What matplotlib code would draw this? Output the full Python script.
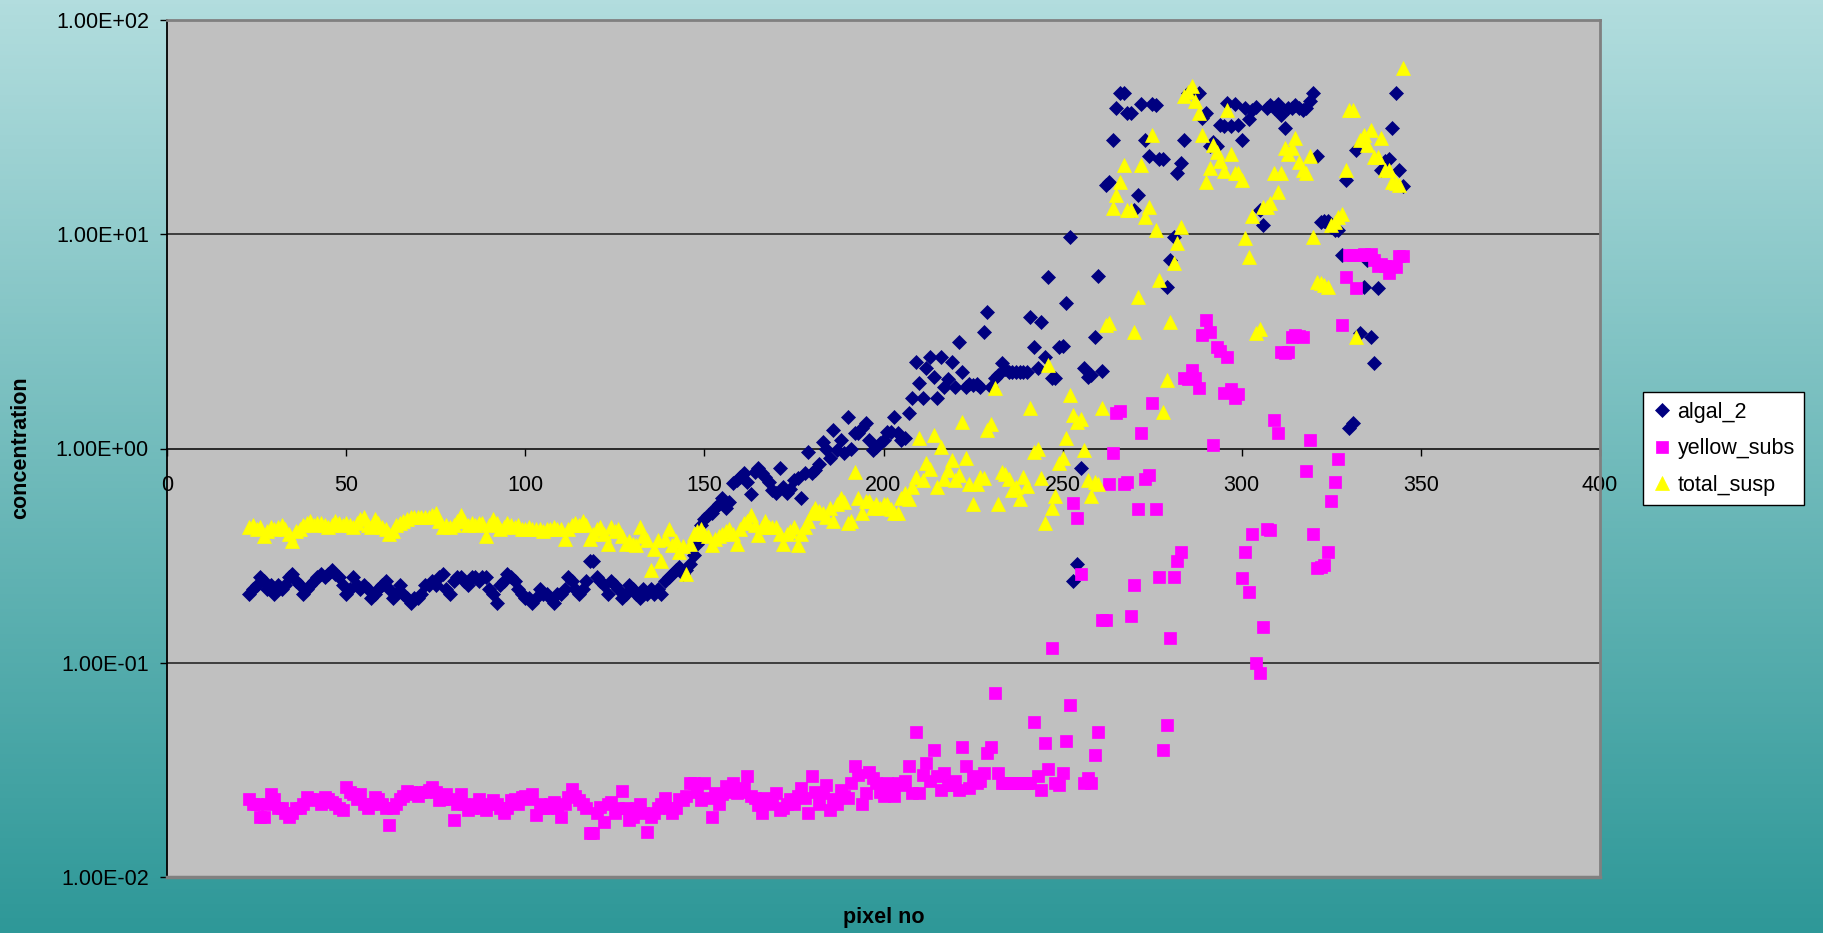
import numpy as np
import matplotlib
matplotlib.use("Agg")
import matplotlib.pyplot as plt
from matplotlib.ticker import FixedLocator, FuncFormatter, NullLocator

plt.rcParams['font.family'] = ['Liberation Sans', 'DejaVu Sans']

# pixel numbers along the transect
pixel_no = np.arange(23, 346)

algal_2 = [
    0.21, 0.22, 0.23, 0.25, 0.24, 0.22, 0.23, 0.21, 0.23, 0.22,
    0.23, 0.25, 0.26, 0.24, 0.23, 0.21, 0.22, 0.23, 0.24, 0.25,
    0.26, 0.25, 0.26, 0.27, 0.26, 0.25, 0.23, 0.21, 0.22, 0.25,
    0.23, 0.22, 0.23, 0.22, 0.20, 0.21, 0.22, 0.23, 0.24, 0.22,
    0.20, 0.21, 0.23, 0.21, 0.20, 0.19, 0.20, 0.20, 0.21, 0.23,
    0.23, 0.24, 0.23, 0.25, 0.26, 0.22, 0.21, 0.24, 0.25, 0.25,
    0.24, 0.23, 0.25, 0.25, 0.24, 0.25, 0.25, 0.22, 0.21, 0.19,
    0.23, 0.24, 0.26, 0.25, 0.24, 0.22, 0.21, 0.20, 0.20, 0.19,
    0.20, 0.22, 0.21, 0.21, 0.20, 0.19, 0.21, 0.21, 0.22, 0.25,
    0.24, 0.22, 0.21, 0.22, 0.24, 0.30, 0.30, 0.25, 0.24, 0.23,
    0.21, 0.24, 0.23, 0.22, 0.20, 0.21, 0.23, 0.22, 0.21, 0.20,
    0.22, 0.21, 0.22, 0.21, 0.22, 0.21, 0.24, 0.25, 0.26, 0.27,
    0.28, 0.26, 0.27, 0.29, 0.32, 0.36, 0.44, 0.47, 0.49, 0.50,
    0.53, 0.55, 0.59, 0.53, 0.56, 0.69, 0.71, 0.74, 0.77, 0.70,
    0.61, 0.78, 0.81, 0.77, 0.74, 0.70, 0.64, 0.62, 0.81, 0.66,
    0.62, 0.65, 0.71, 0.73, 0.59, 0.77, 0.96, 0.77, 0.79, 0.85,
    1.07, 1.00, 0.90, 1.22, 0.98, 1.10, 0.95, 1.40, 1.00, 1.18,
    1.18, 1.25, 1.32, 1.10, 0.98, 1.02, 1.06, 1.10, 1.19, 1.20,
    1.40, 1.18, 1.10, 1.12, 1.46, 1.72, 2.54, 2.02, 1.72, 2.37,
    2.68, 2.16, 1.72, 2.68, 1.94, 2.10, 2.54, 1.94, 3.14, 2.28,
    1.94, 2.00, 1.98, 2.00, 1.94, 3.50, 4.33, 1.94, 2.13, 2.20,
    2.50, 2.35, 2.28, 2.28, 2.28, 2.28, 2.28, 2.28, 4.10, 2.97,
    2.37, 3.90, 2.68, 6.30, 2.13, 2.13, 2.97, 3.00, 4.80, 9.70,
    0.24, 0.29, 0.81, 2.37, 2.16, 2.20, 3.30, 6.40, 2.30, 17.0,
    17.5, 27.5, 38.8, 45.5, 45.5, 36.8, 36.8, 13.0, 15.2, 40.5,
    27.5, 23.2, 40.5, 40.0, 22.4, 22.4, 5.7, 7.6, 9.7, 19.3,
    21.5, 27.5, 45.5, 46.0, 45.0, 45.5, 35.0, 36.8, 25.8, 27.0,
    25.8, 32.5, 32.0, 41.0, 32.0, 40.5, 32.5, 27.5, 39.0, 34.6,
    38.0, 39.4, 13.0, 11.0, 39.0, 40.0, 39.0, 40.5, 36.0, 31.3,
    39.0, 39.0, 40.0, 39.0, 38.0, 39.0, 42.0, 45.7, 23.2, 11.4,
    11.5, 11.5, 10.8, 10.5, 10.5, 8.0, 18.0, 1.25, 1.31, 24.7,
    3.46, 5.7, 7.6, 3.3, 2.5, 5.6, 20.0, 22.0, 22.4, 31.3,
    45.5, 20.0, 16.8,
]

yellow_subs = [
    0.023, 0.0218, 0.022, 0.019, 0.019, 0.022, 0.0245, 0.023, 0.021, 0.021,
    0.020, 0.019, 0.020, 0.021, 0.021, 0.022, 0.0237, 0.023, 0.0229, 0.023,
    0.022, 0.0237, 0.023, 0.0225, 0.022, 0.021, 0.0206, 0.0262, 0.025, 0.0245,
    0.023, 0.0245, 0.022, 0.021, 0.022, 0.0237, 0.023, 0.022, 0.021, 0.0175,
    0.021, 0.022, 0.023, 0.024, 0.0253, 0.025, 0.0245, 0.024, 0.025, 0.025,
    0.0255, 0.0262, 0.025, 0.0229, 0.023, 0.0245, 0.023, 0.0185, 0.022, 0.0245,
    0.022, 0.0206, 0.021, 0.022, 0.023, 0.021, 0.0206, 0.022, 0.0229, 0.022,
    0.021, 0.0198, 0.021, 0.0229, 0.023, 0.022, 0.0237, 0.024, 0.023, 0.0245,
    0.0195, 0.022, 0.021, 0.021, 0.022, 0.0225, 0.021, 0.019, 0.022, 0.0237,
    0.0258, 0.024, 0.0229, 0.022, 0.021, 0.016, 0.016, 0.020, 0.0213, 0.018,
    0.022, 0.0225, 0.0198, 0.021, 0.0253, 0.021, 0.0185, 0.019, 0.021, 0.022,
    0.020, 0.0163, 0.019, 0.020, 0.021, 0.022, 0.0233, 0.021, 0.0198, 0.021,
    0.023, 0.0229, 0.024, 0.0275, 0.0275, 0.025, 0.0229, 0.0275, 0.0233, 0.019,
    0.0246, 0.022, 0.0245, 0.0265, 0.025, 0.0275, 0.0246, 0.025, 0.026, 0.0297,
    0.024, 0.0233, 0.0216, 0.0198, 0.0233, 0.022, 0.023, 0.0246, 0.0206, 0.021,
    0.022, 0.023, 0.022, 0.024, 0.026, 0.0233, 0.0198, 0.0297, 0.025, 0.022,
    0.0246, 0.0268, 0.0206, 0.023, 0.022, 0.0255, 0.024, 0.0233, 0.0275, 0.033,
    0.030, 0.022, 0.0246, 0.031, 0.029, 0.0275, 0.025, 0.0238, 0.0275, 0.026,
    0.0238, 0.0275, 0.027, 0.028, 0.033, 0.0246, 0.0477, 0.0246, 0.030, 0.034,
    0.028, 0.039, 0.0297, 0.0255, 0.0306, 0.0268, 0.027, 0.028, 0.0255, 0.0406,
    0.033, 0.026, 0.0297, 0.0275, 0.028, 0.0306, 0.038, 0.0406, 0.072, 0.0306,
    0.0275, 0.0275, 0.0275, 0.0275, 0.0275, 0.0275, 0.0275, 0.0275, 0.0275, 0.053,
    0.0297, 0.0255, 0.042, 0.0318, 0.117, 0.0275, 0.0268, 0.0306, 0.043, 0.0635,
    0.555, 0.474, 0.26, 0.0275, 0.029, 0.0275, 0.037, 0.0477, 0.158, 0.158,
    0.68, 0.95, 1.46, 1.50, 0.68, 0.70, 0.165, 0.23, 0.52, 1.18,
    0.72, 0.75, 1.63, 0.52, 0.25, 0.039, 0.051, 0.13, 0.25, 0.30,
    0.33, 2.13, 2.10, 2.32, 2.13, 1.91, 3.40, 3.98, 3.50, 1.04,
    2.97, 2.86, 1.81, 2.68, 1.90, 1.72, 1.80, 0.249, 0.33, 0.215,
    0.40, 0.10, 0.09, 0.147, 0.42, 0.415, 1.36, 1.18, 2.82, 2.80,
    2.82, 3.30, 3.40, 3.35, 3.30, 0.785, 1.10, 0.40, 0.276, 0.28,
    0.285, 0.33, 0.57, 0.70, 0.89, 3.78, 6.30, 8.00, 8.00, 5.60,
    8.00, 8.10, 8.00, 8.10, 7.60, 7.10, 7.30, 7.10, 6.60, 7.10,
    7.00, 7.90, 7.90,
]

total_susp = [
    0.43, 0.44, 0.42, 0.43, 0.39, 0.41, 0.43, 0.42, 0.43, 0.44,
    0.42, 0.40, 0.37, 0.41, 0.42, 0.44, 0.45, 0.46, 0.44, 0.45,
    0.45, 0.44, 0.43, 0.44, 0.46, 0.45, 0.44, 0.45, 0.44, 0.43,
    0.45, 0.47, 0.48, 0.44, 0.43, 0.47, 0.45, 0.43, 0.42, 0.40,
    0.41, 0.44, 0.45, 0.46, 0.47, 0.48, 0.48, 0.48, 0.48, 0.48,
    0.48, 0.49, 0.50, 0.46, 0.43, 0.44, 0.43, 0.44, 0.46, 0.49,
    0.46, 0.44, 0.45, 0.44, 0.45, 0.45, 0.39, 0.44, 0.47, 0.45,
    0.42, 0.43, 0.45, 0.44, 0.43, 0.44, 0.42, 0.42, 0.43, 0.42,
    0.42, 0.42, 0.41, 0.42, 0.42, 0.43, 0.42, 0.42, 0.38, 0.42,
    0.44, 0.45, 0.44, 0.46, 0.44, 0.38, 0.40, 0.42, 0.43, 0.40,
    0.36, 0.43, 0.41, 0.42, 0.39, 0.36, 0.37, 0.36, 0.355, 0.43,
    0.39, 0.375, 0.27, 0.34, 0.375, 0.30, 0.38, 0.42, 0.355, 0.37,
    0.33, 0.35, 0.26, 0.36, 0.40, 0.41, 0.42, 0.40, 0.39, 0.355,
    0.38, 0.39, 0.40, 0.41, 0.42, 0.40, 0.36, 0.42, 0.45, 0.46,
    0.49, 0.44, 0.395, 0.43, 0.46, 0.43, 0.43, 0.43, 0.40, 0.36,
    0.40, 0.41, 0.43, 0.355, 0.40, 0.43, 0.46, 0.50, 0.53, 0.51,
    0.50, 0.48, 0.53, 0.46, 0.55, 0.59, 0.56, 0.45, 0.46, 0.78,
    0.59, 0.50, 0.57, 0.57, 0.53, 0.55, 0.53, 0.55, 0.55, 0.52,
    0.50, 0.50, 0.59, 0.62, 0.58, 0.66, 0.74, 1.12, 0.71, 0.86,
    0.80, 1.15, 0.66, 1.02, 0.72, 0.79, 0.88, 0.71, 0.75, 1.33,
    0.90, 0.68, 0.55, 0.68, 0.74, 0.73, 1.22, 1.30, 1.92, 0.55,
    0.78, 0.76, 0.72, 0.64, 0.66, 0.58, 0.74, 0.67, 1.55, 0.96,
    1.00, 0.73, 0.45, 2.45, 0.53, 0.60, 0.86, 0.90, 1.12, 1.78,
    1.43, 1.33, 1.38, 0.98, 0.71, 0.60, 0.70, 0.68, 1.55, 3.78,
    3.85, 13.2, 15.2, 17.5, 21.0, 13.0, 13.0, 3.5, 5.1, 21.0,
    12.0, 13.4, 29.0, 10.5, 6.1, 1.48, 2.09, 3.9, 7.35, 9.1,
    10.8, 44.0, 46.0, 49.0, 42.0, 36.8, 29.0, 17.5, 20.3, 26.0,
    24.3, 22.0, 19.7, 38.0, 23.8, 19.3, 19.3, 18.0, 9.6, 7.8,
    12.2, 3.45, 3.6, 13.4, 13.4, 14.0, 19.3, 15.8, 19.3, 25.3,
    23.8, 25.3, 28.1, 21.7, 20.0, 19.3, 23.3, 9.7, 6.0, 5.9,
    5.8, 5.7, 11.0, 11.4, 12.0, 12.4, 20.0, 38.0, 38.0, 3.3,
    27.5, 29.0, 26.0, 30.5, 23.0, 23.0, 28.0, 20.0, 20.0, 17.5,
    17.3, 17.0, 60.0,
]

series_names = ['algal_2', 'yellow_subs', 'total_susp']
x_ticks = [0, 50, 100, 150, 200, 250, 300, 350, 400]
y_ticks = [0.01, 0.1, 1, 10, 100]

W, H = 1824, 933
fig = plt.figure(figsize=(W / 100, H / 100), dpi=100)

# teal gradient behind everything
bg = fig.add_axes([0, 0, 1, 1], zorder=-10)
top = np.array([178, 221, 222]) / 255
bot = np.array([46, 152, 152]) / 255
t = np.linspace(0, 1, 256)[:, None, None]
grad = top * (1 - t) + bot * t
bg.imshow(grad, aspect='auto', extent=[0, 1, 0, 1])
bg.axis('off')

ax = fig.add_axes([167 / W, 1 - 877 / H, 1433 / W, 857 / H])
ax.set_facecolor('#C0C0C0')

ax.plot(pixel_no, algal_2, linestyle='none', marker='D', ms=7.3,
        color='#000080', mec='#000080', mew=0.5, label=series_names[0], zorder=3)
ax.plot(pixel_no, yellow_subs, linestyle='none', marker='s', ms=8.4,
        color='#FF00FF', mec='#FF00FF', mew=0.5, label=series_names[1], zorder=4)
ax.plot(pixel_no, total_susp, linestyle='none', marker='^', ms=10.2,
        color='#FFFF00', mec='#FFFF00', mew=0.5, label=series_names[2], zorder=5)

ax.set_yscale('log')
ax.set_xlim(0, 400)
ax.set_ylim(0.01, 100)

# horizontal grid at inner decades
for v in (0.1, 10):
    ax.axhline(v, color='#1a1a1a', lw=1.1, zorder=1)

# x axis crosses at 1.0
ax.spines['bottom'].set_position(('data', 1.0))
ax.spines['bottom'].set_color('black')
ax.spines['bottom'].set_linewidth(1.1)
ax.spines['bottom'].set_zorder(2)
ax.spines['left'].set_color('black')
ax.spines['left'].set_linewidth(1.3)
for s in ('top', 'right'):
    ax.spines[s].set_color('#808080')
    ax.spines[s].set_linewidth(2)
ax.plot([0, 400], [0.01, 0.01], color='#808080', lw=2.5, clip_on=False, zorder=6)

ax.xaxis.set_major_locator(FixedLocator(x_ticks))
ax.xaxis.set_minor_locator(NullLocator())
ax.yaxis.set_major_locator(FixedLocator(y_ticks))
ax.yaxis.set_minor_locator(NullLocator())
ax.yaxis.set_major_formatter(FuncFormatter(lambda v, p: f"{v:.2E}"))
ax.tick_params(axis='x', direction='out', length=5, width=1, pad=14,
               labelsize=15.5, colors='black')
ax.tick_params(axis='y', direction='out', length=5, width=1, pad=8,
               labelsize=15.5, colors='black')

fig.text(21 / W, 1 - 448 / H, 'concentration', rotation=90, fontsize=15.5,
         fontweight='bold', ha='center', va='center')
fig.text(884 / W, 1 - 917 / H, 'pixel no', fontsize=15.5, fontweight='bold',
         ha='center', va='center')

leg = fig.legend(loc='upper left', bbox_to_anchor=(1643 / W, 1 - 392 / H),
                 frameon=True, fancybox=False, edgecolor='black',
                 facecolor='white', framealpha=1, fontsize=15.5,
                 borderpad=0.45, labelspacing=0.72, handlelength=0.9,
                 handletextpad=0.25, borderaxespad=0)
leg.get_frame().set_linewidth(1)

fig.savefig('out.png', dpi=100)
